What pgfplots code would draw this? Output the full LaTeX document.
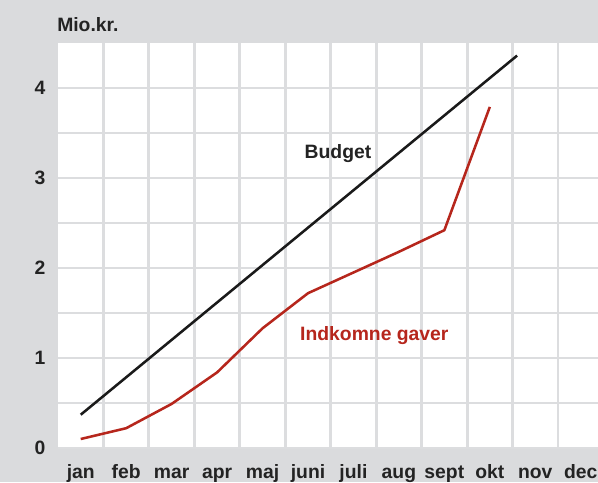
\documentclass[border=0pt]{standalone}
\usepackage{fontspec}
\setmainfont{Liberation Sans}
\usepackage{pgfplots}
\pgfplotsset{compat=1.18}
\definecolor{bggray}{RGB}{218,219,221}
\definecolor{gridgray}{RGB}{220,221,223}
\definecolor{gaverred}{RGB}{182,38,28}
\definecolor{budgetblack}{RGB}{26,26,26}
\definecolor{textblack}{RGB}{35,35,35}
\begin{document}
\begin{tikzpicture}
\fill[bggray] (-43.5pt,-25.5pt) rectangle (405pt,336pt);
\useasboundingbox (-43.5pt,-25.5pt) rectangle (405pt,336pt);
\begin{axis}[
  at={(0,0)}, anchor=south west,
  scale only axis, width=405pt, height=303.75pt,
  xmin=-0.5, xmax=11.38, ymin=0, ymax=4.5,
  axis background/.style={fill=white},
  axis line style={draw=none},
  major tick length=0pt, minor tick length=0pt,
  xtick={0,...,11},
  xticklabels={jan,feb,mar,apr,maj,juni,juli,aug,sept,okt,nov,dec},
  minor xtick={0.5,1.5,...,10.5},
  ytick={0,1,2,3,4},
  minor ytick={0.5,1,...,4.0},
  xmajorgrids=false, xminorgrids=true,
  ymajorgrids=true, yminorgrids=true,
  grid style={draw=gridgray, line width=2.2pt},
  minor grid style={draw=gridgray, line width=2.2pt},
  /pgf/number format/assume math mode=true,
  ticklabel style={font=\fontsize{14.5}{17}\selectfont\bfseries, text=textblack},
  xticklabel style={anchor=base, yshift=-22.5pt},
  yticklabel style={anchor=base, xshift=-13.5pt, yshift=-5.2pt},
  clip=false,
]
\addplot[budgetblack, line width=1.9pt] coordinates {(0,0.37) (9.6,4.36)};
\addplot[gaverred, line width=1.9pt, line join=round] coordinates {
  (0,0.10) (1,0.22) (2,0.49) (3,0.84) (4,1.33) (5,1.72) (6,1.95) (7,2.18) (8,2.42) (9,3.79)};
\node[anchor=base, font=\fontsize{14.5}{17}\selectfont\bfseries, text=textblack] at (axis cs:5.66,3.22) {Budget};
\node[anchor=base, font=\fontsize{14.5}{17}\selectfont\bfseries, text=gaverred] at (axis cs:6.46,1.19) {Indkomne gaver};
\node[anchor=base west, inner sep=0pt, font=\fontsize{14.5}{17}\selectfont\bfseries, text=textblack] at ([xshift=-0.75pt,yshift=9pt]rel axis cs:0,1) {Mio.kr.};
\end{axis}
\end{tikzpicture}
\end{document}
